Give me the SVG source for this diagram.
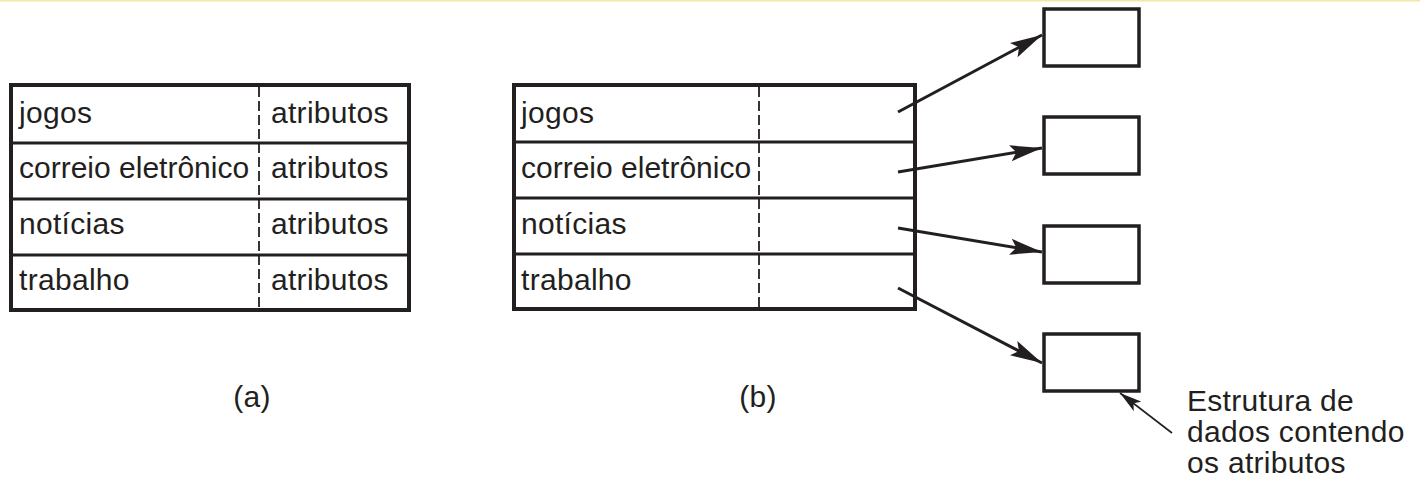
<svg xmlns="http://www.w3.org/2000/svg" width="1420" height="480" viewBox="0 0 1420 480">
<style>
  text { font-family: "Liberation Sans", Arial, sans-serif; font-size: 30px; fill: #231f20; letter-spacing: 0.3px; }
  .tight { letter-spacing: 0; }
  .frame { fill: #fff; stroke: #231f20; stroke-width: 4; }
  .row { stroke: #231f20; stroke-width: 3; fill: none; }
  .dash { stroke: #231f20; stroke-width: 1.8; stroke-dasharray: 10 4; fill: none; }
  .box { fill: #fff; stroke: #231f20; stroke-width: 3.5; }
  .conn { stroke: #231f20; stroke-width: 3; fill: none; marker-end: url(#ah); }
  .thin { stroke: #231f20; stroke-width: 1.6; fill: none; marker-end: url(#ahs); }
</style>
<defs>
  <marker id="ah" markerUnits="userSpaceOnUse" markerWidth="34" markerHeight="18" refX="32" refY="8" orient="auto" viewBox="0 0 34 16">
    <path d="M0,0 L32,8 L0,16 L6,8 Z" fill="#231f20"/>
  </marker>
  <marker id="ahs" markerUnits="userSpaceOnUse" markerWidth="24" markerHeight="14" refX="22" refY="6" orient="auto" viewBox="0 0 24 12">
    <path d="M0,0 L22,6 L0,12 L5,6 Z" fill="#231f20"/>
  </marker>
</defs>
<rect x="0" y="0" width="1420" height="480" fill="#fff"/>
<rect x="0" y="0" width="1420" height="1.5" fill="#f2e8a0"/>

<g id="table-a">
  <rect class="frame" x="11" y="85" width="398" height="225"/>
  <line class="row" x1="11" y1="143" x2="409" y2="143"/>
  <line class="row" x1="11" y1="199" x2="409" y2="199"/>
  <line class="row" x1="11" y1="255" x2="409" y2="255"/>
  <line class="dash" x1="259" y1="87" x2="259" y2="308"/>
  <text x="19" y="123">jogos</text>
  <text class="tight" x="19" y="178">correio eletrônico</text>
  <text x="19" y="234">notícias</text>
  <text x="19" y="290">trabalho</text>
  <text x="271" y="123">atributos</text>
  <text x="271" y="178">atributos</text>
  <text x="271" y="234">atributos</text>
  <text x="271" y="290">atributos</text>
</g>
<text id="label-a" x="252" y="407" text-anchor="middle">(a)</text>

<g id="table-b">
  <rect class="frame" x="514" y="85" width="401" height="224"/>
  <line class="row" x1="514" y1="142" x2="915" y2="142"/>
  <line class="row" x1="514" y1="198" x2="915" y2="198"/>
  <line class="row" x1="514" y1="254" x2="915" y2="254"/>
  <line class="dash" x1="759" y1="87" x2="759" y2="307"/>
  <text x="521" y="123">jogos</text>
  <text class="tight" x="521" y="178">correio eletrônico</text>
  <text x="521" y="234">notícias</text>
  <text x="521" y="290">trabalho</text>
</g>
<text id="label-b" x="758" y="407" text-anchor="middle">(b)</text>

<g id="box1"><rect class="box" x="1044" y="9" width="95" height="57"/></g>
<g id="box2"><rect class="box" x="1044" y="117" width="95" height="57"/></g>
<g id="box3"><rect class="box" x="1044" y="226" width="95" height="57"/></g>
<g id="box4"><rect class="box" x="1044" y="334" width="95" height="57"/></g>

<g id="connectors">
  <line class="conn" x1="898" y1="112" x2="1042" y2="35"/>
  <line class="conn" x1="898" y1="172" x2="1042" y2="148"/>
  <line class="conn" x1="898" y1="228" x2="1042" y2="252"/>
  <line class="conn" x1="898" y1="288" x2="1042" y2="363"/>
  <line class="thin" x1="1172" y1="433" x2="1120" y2="393"/>
</g>

<g id="annotation">
  <text x="1187" y="411">Estrutura de</text>
  <text x="1187" y="442">dados contendo</text>
  <text x="1187" y="473">os atributos</text>
</g>
</svg>
